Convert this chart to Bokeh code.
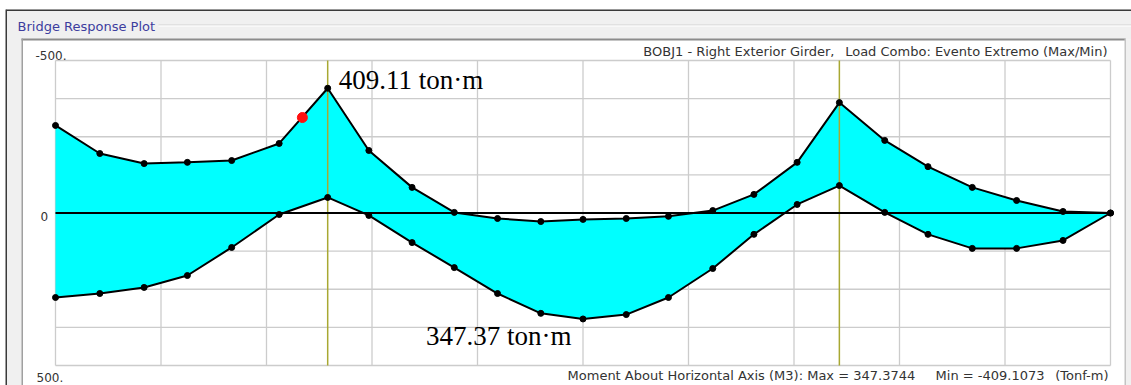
from bokeh.plotting import figure
from bokeh.models import Range1d, Label, BoxAnnotation, ColumnDataSource
from bokeh.embed import file_html
from bokeh.resources import INLINE

# ---------------- data ----------------
stations = [0, 4.2, 8.4, 12.5, 16.7, 21.2, 25.8, 29.7, 33.8, 37.8, 41.9, 46.0,
            50.0, 54.1, 58.1, 62.3, 66.2, 70.3, 74.3, 78.6, 82.7, 86.9, 91.1,
            95.5, 100]
moment_min = [-287, -195, -162, -166, -172, -228, -409.1, -205, -84, -2, 18, 28,
              21, 18, 11, -8, -61, -166, -362, -238, -152, -84, -41, -5, 0]
moment_max = [277, 264, 244, 205, 113, 5, -51, 8, 97, 179, 264, 329,
              347.4, 333, 277, 182, 70, -28, -90, -2, 70, 116, 116, 90, 0]
supports = [25.8, 74.3]
red_marker_x = [23.4]
red_marker_y = [-313]
x_grid = [0, 10, 20, 30, 40, 50, 60, 70, 80, 90, 100]
y_grid = [-500, -375, -250, -125, 0, 125, 250, 375, 500]
y_labels = ["-500.", "0", "500."]
y_label_values = [-500, 0, 500]
title_left = "BOBJ1 - Right Exterior Girder,"
title_right = "Load Combo: Evento Extremo (Max/Min)"
foot_1 = "Moment About Horizontal Axis  (M3):  Max = 347.3744"
foot_2 = "Min = -409.1073"
foot_3 = "(Tonf-m)"
ann_min = "409.11 ton\u00b7m"
ann_max = "347.37 ton\u00b7m"

# ---------------- layout (page pixels) ----------------
W, H = 1131, 385                 # figure occupies the whole window
PX0, PY0 = 0, 0
CX0, CX1 = 55, 1110              # chart area (page px)
CY0, CY1 = 60, 365
xs = (CX1 - CX0) / (x_grid[-1] - x_grid[0])
ys = (CY1 - CY0) / (y_grid[-1] - y_grid[0])
x_start = x_grid[0] - (CX0 - PX0) / xs
x_end = x_grid[-1] + (PX0 + W - CX1) / xs
y_top = y_grid[0] - (CY0 - PY0) / ys
y_bot = y_grid[-1] + (PY0 + H - CY1) / ys

p = figure(width=W, height=H, output_backend="svg", toolbar_location=None,
           x_range=Range1d(x_start, x_end), y_range=Range1d(y_bot, y_top),
           x_axis_location=None, y_axis_location=None,
           min_border=0, background_fill_color="white",
           border_fill_color="white", outline_line_color=None)
p.xgrid.visible = False
p.ygrid.visible = False


def sx(px):
    return px - PX0


def sy(py):
    return PY0 + H - py


def box(x0, y0, x1, y1, color):
    p.add_layout(BoxAnnotation(left=sx(x0), right=sx(x1), top=sy(y0), bottom=sy(y1),
                               left_units="screen", right_units="screen",
                               top_units="screen", bottom_units="screen",
                               fill_color=color, fill_alpha=1, line_alpha=0,
                               level="underlay"))


# window decoration
box(6, 9, 22, 386, "#f0f0f0")
box(6, 9, 1131, 39, "#f0f0f0")
box(1125, 39, 1131, 386, "#f0f0f0")
box(6, 9, 1131, 10.5, "#3a3a3a")
box(5, 9, 6.5, 386, "#3a3a3a")
box(158, 24, 1131, 25, "#d2d2d2")
box(158, 25, 1131, 26, "#ffffff")
box(21, 38, 1125, 40, "#8c8c8c")
box(21, 38, 22.5, 386, "#a0a0a0")
box(1124, 38, 1125.5, 386, "#c4c4c4")

# ---------------- grid ----------------
p.segment(x0=x_grid, y0=[y_grid[0]] * len(x_grid), x1=x_grid,
          y1=[y_grid[-1]] * len(x_grid), line_color="#cccccc", line_width=1.3)
p.segment(x0=[x_grid[0]] * len(y_grid), y0=y_grid, x1=[x_grid[-1]] * len(y_grid),
          y1=y_grid, line_color="#cccccc", line_width=1.3)

# ---------------- data marks ----------------
src = ColumnDataSource(dict(x=stations, lo=moment_min, hi=moment_max))
p.varea(x="x", y1="lo", y2="hi", source=src, fill_color="#00ffff")

p.segment(x0=supports, y0=[y_grid[0]] * len(supports), x1=supports,
          y1=[y_grid[-1]] * len(supports), line_color="#a8a832", line_width=1.5)
p.line(x=[x_grid[0], x_grid[-1]], y=[0, 0], line_color="black", line_width=2)

p.line(x="x", y="lo", source=src, line_color="black", line_width=2)
p.line(x="x", y="hi", source=src, line_color="black", line_width=2)
p.scatter(x="x", y="lo", source=src, size=6, color="black")
p.scatter(x="x", y="hi", source=src, size=6, color="black")
p.scatter(x=red_marker_x, y=red_marker_y, size=10, color="#ff1010")

# ---------------- texts ----------------
SANS = "DejaVu Sans"
SERIF = "Liberation Serif"


def slabel(text, px, py, align="left", size="13px", color="#333333"):
    p.add_layout(Label(x=sx(px), y=sy(py), x_units="screen", y_units="screen",
                       text=text, text_align=align, text_baseline="alphabetic",
                       text_font=SANS, text_font_size=size, text_color=color))


slabel("Bridge Response Plot", 17, 26, size="13px", color="#3d3d9e")
slabel(title_left, 834, 51, align="right")
slabel(title_right, 1107, 51, align="right")
slabel(foot_1, 923, 375, align="right")
slabel(foot_2, 1044, 375, align="right")
slabel(foot_3, 1108, 375, align="right")

y_off = [5, -3, -12]
y_base = ["alphabetic", "middle", "alphabetic"]
y_px = [35, 40, 36]
for t, v, off, bl, xx in zip(y_labels, y_label_values, y_off, y_base, y_px):
    p.add_layout(Label(x=sx(xx), y=v, x_units="screen", y_units="data", y_offset=off,
                       text=t, text_baseline=bl, text_font=SANS,
                       text_font_size="12px", text_color="#333333"))

i_min = moment_min.index(min(moment_min))
i_max = moment_max.index(max(moment_max))
p.add_layout(Label(x=stations[i_min], y=moment_min[i_min], x_offset=11, y_offset=8,
                   text=ann_min, text_font=SERIF, text_font_size="27px",
                   text_color="black", text_baseline="alphabetic"))
p.add_layout(Label(x=stations[i_max], y=moment_max[i_max], x_offset=-157, y_offset=-17,
                   text=ann_max, text_font=SERIF, text_font_size="27px",
                   text_color="black", text_baseline="alphabetic"))

open("out.html", "w").write(file_html(p, INLINE))
